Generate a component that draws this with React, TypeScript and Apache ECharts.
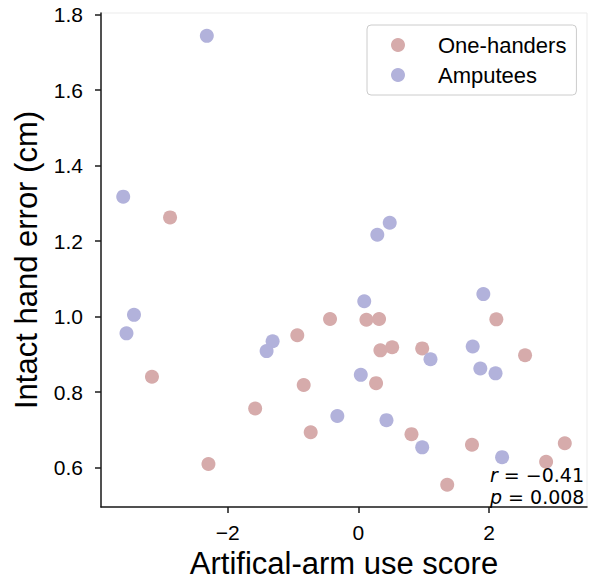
import React, { useEffect, useRef } from "react";
import * as echarts from "echarts";

const oneHandersX = [-2.883, -3.16, -1.58, -2.295, -0.935, -0.434, 0.123, 0.317, 0.337, 0.517, 0.977, 0.271, -0.837, -0.73, 0.813, 1.36, 2.112, 2.552, 1.739, 3.16, 2.874];
const oneHandersY = [1.263, 0.841, 0.757, 0.61, 0.951, 0.994, 0.992, 0.994, 0.911, 0.919, 0.916, 0.824, 0.819, 0.694, 0.689, 0.555, 0.993, 0.898, 0.661, 0.665, 0.616];

const amputeesX = [-2.32, -3.6, -3.435, -3.55, -1.313, -1.405, 0.48, 0.29, 0.09, 0.037, -0.322, 0.43, 1.104, 0.977, 1.913, 1.75, 1.867, 2.1, 2.2];
const amputeesY = [1.744, 1.318, 1.005, 0.956, 0.935, 0.909, 1.249, 1.217, 1.041, 0.846, 0.737, 0.726, 0.8875, 0.654, 1.06, 0.921, 0.863, 0.85, 0.628];

const xTicks = [-2, 0, 2];
const yTicks = [0.6, 0.8, 1.0, 1.2, 1.4, 1.6, 1.8];

const seriesNames = ["One-handers", "Amputees"];
const seriesColors = ["#d6abab", "#b2b2db"];
const statText = "{i|r} = −0.41\n{i|p} = 0.008";

const xRange = [-3.94, 3.5];
const yRange = [0.496, 1.8045];

export default function App() {
  const ref = useRef<HTMLDivElement>(null);
  useEffect(() => {
    document.body.style.margin = "0";
    const chart = echarts.init(ref.current!, undefined, { renderer: "svg" });
    const font = "Liberation Sans";
    const axisColor = "#1a1a1a";
    chart.setOption({
      animation: false,
      backgroundColor: "#ffffff",
      grid: {
        left: 101,
        right: 7,
        top: 13,
        bottom: 72,
        show: true,
        borderColor: "#ebebeb",
        borderWidth: 1,
      },
      legend: {
        orient: "vertical",
        left: 367,
        top: 25,
        padding: [9, 10, 9, 24],
        itemWidth: 14,
        itemHeight: 14,
        itemGap: 8,
        borderColor: "#cccccc",
        borderWidth: 1,
        borderRadius: 4,
        backgroundColor: "rgba(255,255,255,0.8)",
        textStyle: { fontFamily: font, fontSize: 22, color: "#000", padding: [0, 0, 0, 28] },
        data: seriesNames.map((n) => ({ name: n, icon: "circle" })),
      },
      xAxis: {
        type: "value",
        min: xRange[0],
        max: xRange[1],
        name: "Artifical-arm use score",
        nameLocation: "middle",
        nameGap: 41,
        nameTextStyle: { fontFamily: font, fontSize: 31, color: "#000" },
        axisLine: { show: true, onZero: false, lineStyle: { color: axisColor, width: 1.5 } },
        axisTick: { show: true, length: 6, customValues: xTicks, lineStyle: { color: axisColor, width: 1.5 } },
        axisLabel: {
          customValues: xTicks,
          margin: 15,
          fontFamily: font,
          fontSize: 21,
          color: "#000",
          formatter: (v: number) => String(v).replace("-", "\u2212"),
        },
        splitLine: { show: false },
      },
      yAxis: {
        type: "value",
        min: yRange[0],
        max: yRange[1],
        name: "Intact hand error (cm)",
        nameLocation: "middle",
        nameGap: 59,
        nameTextStyle: { fontFamily: font, fontSize: 31, color: "#000" },
        axisLine: { show: true, onZero: false, lineStyle: { color: axisColor, width: 1.5 } },
        axisTick: { show: true, length: 6, customValues: yTicks, lineStyle: { color: axisColor, width: 1.5 } },
        axisLabel: {
          customValues: yTicks,
          margin: 18,
          fontFamily: font,
          fontSize: 21,
          color: "#000",
          formatter: (v: number) => v.toFixed(1),
        },
        splitLine: { show: false },
      },
      series: [
        {
          name: seriesNames[0],
          type: "scatter",
          symbol: "circle",
          symbolSize: 14,
          itemStyle: { color: seriesColors[0], opacity: 1 },
          data: oneHandersX.map((x, i) => [x, oneHandersY[i]]),
        },
        {
          name: seriesNames[1],
          type: "scatter",
          symbol: "circle",
          symbolSize: 14,
          itemStyle: { color: seriesColors[1], opacity: 1 },
          data: amputeesX.map((x, i) => [x, amputeesY[i]]),
        },
      ],
      graphic: [
        {
          type: "text",
          left: 490,
          top: 464,
          z: 10,
          style: {
            text: statText,
            fontFamily: "DejaVu Sans",
            fontSize: 19,
            lineHeight: 22,
            fill: "#000",
            rich: {
              i: { fontFamily: "DejaVu Sans", fontSize: 19, lineHeight: 22, fontStyle: "italic", fill: "#000" },
            },
          },
        },
      ],
    });
    return () => chart.dispose();
  }, []);
  return <div ref={ref} style={{ width: 594, height: 584 }} />;
}
